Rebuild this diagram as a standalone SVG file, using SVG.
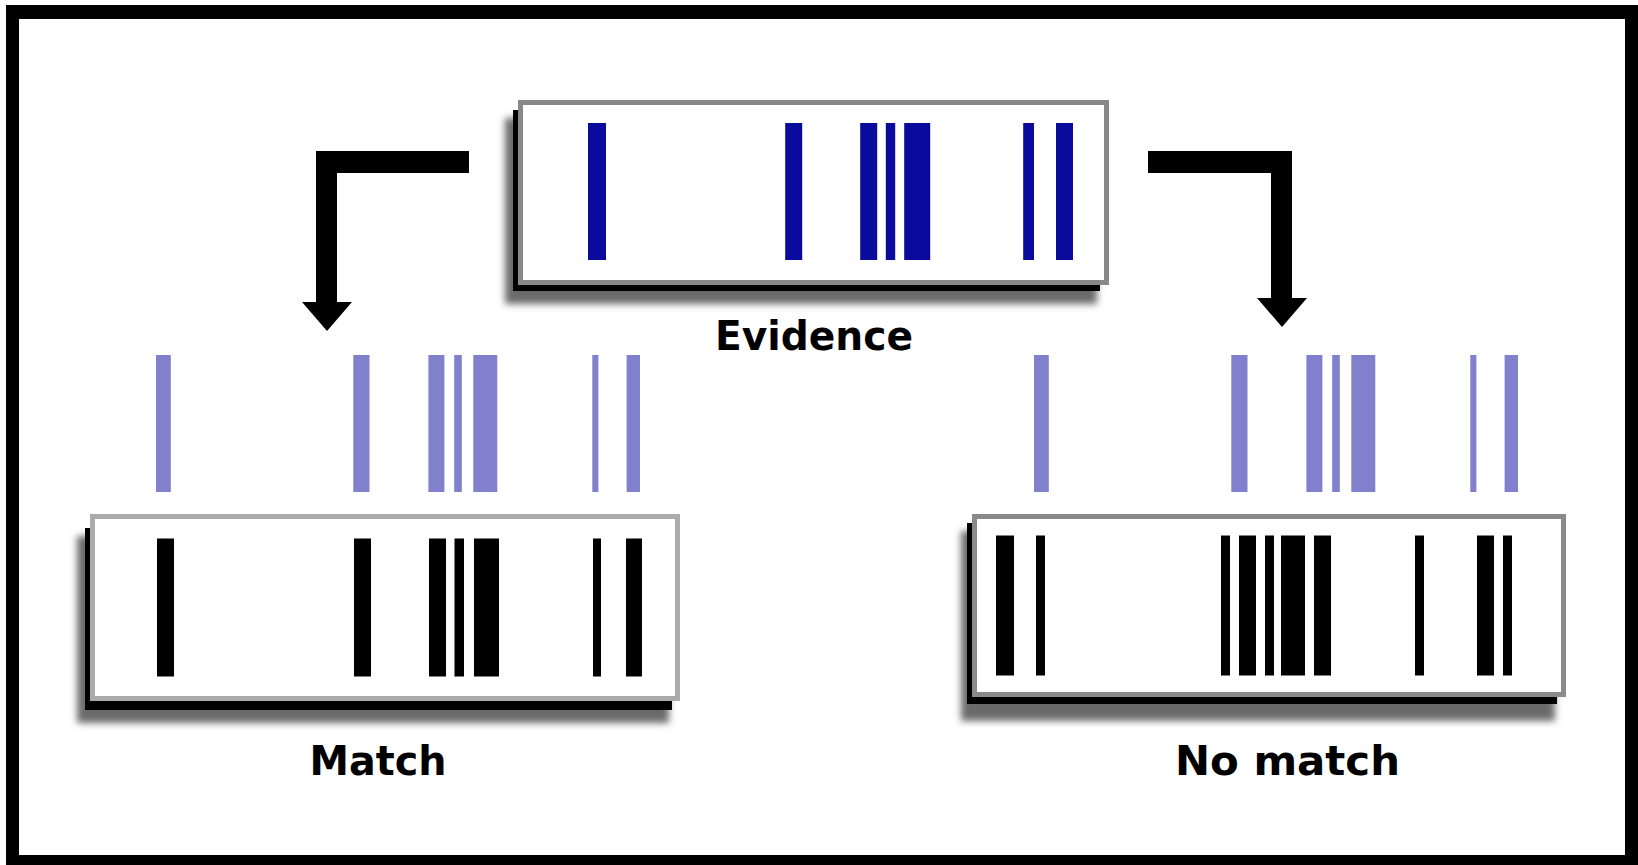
<svg xmlns="http://www.w3.org/2000/svg" width="1638" height="865" viewBox="0 0 1638 865">
  <style>
    .frame-out { fill: #000; }
    .frame-in { fill: #fff; }
    .box { fill: #fff; stroke: #999; stroke-width: 5; }
    .sh-black { fill: #000; }
    .sh-gray { fill: #6a6a6a; filter: url(#blur); }
    .ev { fill: #0a0a9c; }
    .probe { fill: #8080cc; }
    .band { fill: #000; }
    .label { font-family: "DejaVu Sans", "Liberation Sans", sans-serif; font-weight: bold; font-size: 41px; fill: #000; text-anchor: middle; }
    .arrow { fill: #000; }
  </style>
  <defs>
    <filter id="blur" x="-10%" y="-20%" width="120%" height="140%">
      <feGaussianBlur stdDeviation="3.5"/>
    </filter>
  </defs>

  <rect class="frame-out" x="6" y="5" width="1632" height="860"/>
  <rect class="frame-in" x="19" y="19" width="1606" height="836"/>

  <g id="evidence">
    <rect class="sh-gray" x="505" y="118" width="592" height="186"/>
    <rect class="sh-black" x="513" y="110" width="587" height="181"/>
    <rect class="box" x="520.5" y="102.5" width="586" height="180" style="stroke:#888"/>
    <rect class="ev" x="588" y="123" width="18" height="137"/>
    <rect class="ev" x="785.2" y="123" width="17" height="137"/>
    <rect class="ev" x="860.2" y="123" width="17" height="137"/>
    <rect class="ev" x="885.8" y="123" width="9.4" height="137"/>
    <rect class="ev" x="904.2" y="123" width="26" height="137"/>
    <rect class="ev" x="1023.2" y="123" width="10.8" height="137"/>
    <rect class="ev" x="1056" y="123" width="17" height="137"/>
    <text class="label" x="814" y="350" textLength="198" lengthAdjust="spacingAndGlyphs">Evidence</text>
  </g>

  <g id="probe-left">
    <rect class="probe" x="156" y="355" width="14.8" height="137"/>
    <rect class="probe" x="353.3" y="355" width="16.2" height="137"/>
    <rect class="probe" x="428.4" y="355" width="16" height="137"/>
    <rect class="probe" x="454.2" y="355" width="7.6" height="137"/>
    <rect class="probe" x="473.3" y="355" width="24" height="137"/>
    <rect class="probe" x="592.3" y="355" width="6.1" height="137"/>
    <rect class="probe" x="626.6" y="355" width="13.4" height="137"/>
  </g>

  <g id="probe-right">
    <rect class="probe" x="1034" y="355" width="14.8" height="137"/>
    <rect class="probe" x="1231.3" y="355" width="16.2" height="137"/>
    <rect class="probe" x="1306.4" y="355" width="16" height="137"/>
    <rect class="probe" x="1332.2" y="355" width="7.6" height="137"/>
    <rect class="probe" x="1351.3" y="355" width="24" height="137"/>
    <rect class="probe" x="1470.3" y="355" width="6.1" height="137"/>
    <rect class="probe" x="1504.6" y="355" width="13.4" height="137"/>
  </g>

  <g id="match">
    <rect class="sh-gray" x="77" y="536" width="592" height="187"/>
    <rect class="sh-black" x="85" y="528" width="587" height="182"/>
    <rect class="box" x="92.5" y="516.5" width="585" height="182" style="stroke:#ababab"/>
    <rect class="band" x="157" y="538.5" width="17" height="138"/>
    <rect class="band" x="354" y="538.5" width="17" height="138"/>
    <rect class="band" x="429" y="538.5" width="17" height="138"/>
    <rect class="band" x="454.5" y="538.5" width="9.5" height="138"/>
    <rect class="band" x="474" y="538.5" width="25" height="138"/>
    <rect class="band" x="593" y="538.5" width="8" height="138"/>
    <rect class="band" x="626" y="538.5" width="16" height="138"/>
    <text class="label" x="378" y="775" textLength="137" lengthAdjust="spacingAndGlyphs">Match</text>
  </g>

  <g id="no-match">
    <rect class="sh-gray" x="961" y="531" width="594" height="190"/>
    <rect class="sh-black" x="967" y="523" width="590" height="181"/>
    <rect class="box" x="974.5" y="516.5" width="589" height="178" style="stroke:#8a8a8a"/>
    <rect class="band" x="996" y="535.5" width="18" height="140"/>
    <rect class="band" x="1036" y="535.5" width="9" height="140"/>
    <rect class="band" x="1221" y="535.5" width="9" height="140"/>
    <rect class="band" x="1239" y="535.5" width="17" height="140"/>
    <rect class="band" x="1265" y="535.5" width="9" height="140"/>
    <rect class="band" x="1281" y="535.5" width="24" height="140"/>
    <rect class="band" x="1314" y="535.5" width="17" height="140"/>
    <rect class="band" x="1415" y="535.5" width="9" height="140"/>
    <rect class="band" x="1477" y="535.5" width="17" height="140"/>
    <rect class="band" x="1503" y="535.5" width="9" height="140"/>
    <text class="label" x="1287.5" y="775" textLength="225" lengthAdjust="spacingAndGlyphs">No match</text>
  </g>

  <g id="connectors">
    <polygon class="arrow" points="469,151 316,151 316,302 302,302 327,331 352,302 337,302 337,173 469,173"/>
    <polygon class="arrow" points="1148,151 1292,151 1292,298 1307,298 1282,327 1257,298 1271,298 1271,173 1148,173"/>
  </g>
</svg>
